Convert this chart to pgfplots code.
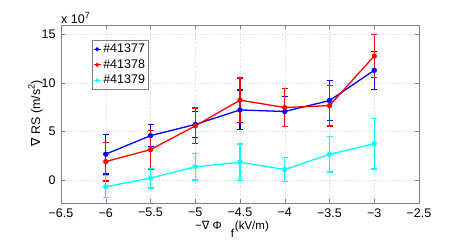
\documentclass[border=0pt]{standalone}
\usepackage{pgfplots}
\pgfplotsset{compat=1.18}
\usepackage{fontspec}
\setmainfont{Liberation Sans}
\newfontfamily\symfont{DejaVu Sans}
\definecolor{mcyan}{rgb}{0,1,1}
\begin{document}
\fontsize{12.5}{14}\selectfont
\begin{tikzpicture}[x=1pt,y=1pt]
\useasboundingbox (0,0) rectangle (463,242);
\begin{axis}[
  at={(61pt,39pt)}, anchor=south west,
  scale only axis, width=358pt, height=178pt,
  xmin=-6.5, xmax=-2.5, ymin=-2.4, ymax=16,
  xtick={-6.5,-6,...,-2.5},
  xticklabels={−6.5,−6,−5.5,−5,−4.5,−4,−3.5,−3,−2.5},
  ytick={0,5,10,15},
  tick align=inside, major tick length=4pt,
  axis line style={black!50, line width=0.6pt},
  tick style={black!50, line width=0.5pt},
  grid=major, major grid style={black!15, dotted, line width=0.5pt},
  /pgf/number format/assume math mode=true,
  ticklabel style={font=\fontsize{12.5}{14}\selectfont},
  xticklabel style={yshift=-1pt},
  yticklabel style={xshift=-1pt},
  legend style={at={(0.086,0.915)}, anchor=north west, draw=black!50, line width=0.6pt,
    font=\fontsize{12.5}{14}\selectfont, inner xsep=1pt, inner ysep=1.5pt, row sep=1pt,
    legend cell align=left, /tikz/every odd column/.style={inner xsep=0pt}},
  legend image code/.code={\draw[#1, line width=1.2pt] (0pt,0pt) -- (7pt,0pt);
     \fill[#1] (3.5pt,0pt) circle (1.3pt);},
  clip=false,
]
\addplot[blue, line width=1.3pt, mark=*, mark size=2pt,
  error bars/.cd, y dir=both, y explicit,
  error bar style={line width=1.3pt},
  error mark options={rotate=90, mark size=3pt, line width=1.3pt}]
  table[x=x, y=y, y error=e] {
x y e
-6 2.65 2.05
-5.5 4.56 1.15
-5 5.72 1.35
-4.5 7.22 2.05
-4 7.06 1.55
-3.5 8.19 2.05
-3 11.32 1.97
};
\addlegendentry{\#41377}
\addplot[red, line width=1.3pt, mark=*, mark size=2pt,
  error bars/.cd, y dir=both, y explicit,
  error bar style={line width=1.3pt},
  error mark options={rotate=90, mark size=3pt, line width=1.3pt}]
  table[x=x, y=y, y error=e] {
x y e
-6 1.88 2.0
-5.5 3.12 2.0
-5 5.57 1.85
-4.5 8.23 2.3
-4 7.47 1.95
-3.5 7.67 2.1
-3 12.79 2.23
};
\addlegendentry{\#41378}
\addplot[mcyan, line width=1.3pt, mark=*, mark size=2pt,
  error bars/.cd, y dir=both, y explicit,
  error bar style={line width=1.3pt},
  error mark options={rotate=90, mark size=3pt, line width=1.3pt}]
  table[x=x, y=y, y error=e] {
x y e
-6 -0.72 1.13
-5.5 0.17 1.03
-5 1.34 1.37
-4.5 1.81 1.9
-4 1.06 1.27
-3.5 2.63 1.82
-3 3.73 2.6
};
\addlegendentry{\#41379}
\node[anchor=south west, inner sep=0pt] at (rel axis cs:0,1) [yshift=1pt] {x 10\raisebox{5.5pt}{\fontsize{9}{10}\selectfont 7}};
\end{axis}
\node[rotate=90, inner sep=0pt] at (35.5,128.5) {{\symfont ∇} RS (m/s\raisebox{5.5pt}{\fontsize{9}{10}\selectfont 2})};
\node[anchor=base west, inner sep=0pt, font=\fontsize{11.5}{13}\selectfont] at (195,13) {−{\symfont ∇}\hspace{3pt}Φ\hspace{9pt}\raisebox{-8.5pt}{f}\hspace{1pt}(kV/m)};
\end{tikzpicture}
\end{document}
